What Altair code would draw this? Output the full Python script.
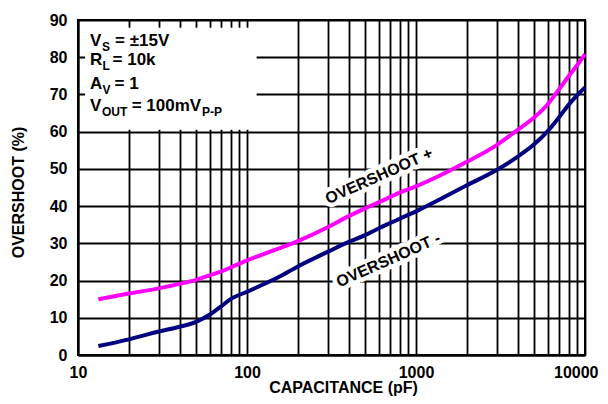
import altair as alt
import pandas as pd

# ---------------- data ----------------
cap_pf = [13.2, 20, 30, 40, 50, 60, 70, 80, 100, 152, 200, 300, 400, 500,
          600, 700, 800, 1000, 2000, 3000, 4000, 5000, 6000, 7000, 8000, 9000, 10000]
overshoot_pos = [15.0, 16.5, 17.9, 19.1, 20.2, 21.4, 22.4, 23.5, 25.4, 28.5, 30.6,
                 34.3, 37.3, 39.4, 41.0, 42.4, 43.6, 45.3, 51.9, 56.4, 60.5, 63.8,
                 67.3, 71.3, 74.9, 77.9, 80.8]
overshoot_neg = [2.4, 4.2, 6.3, 7.6, 8.9, 10.8, 13.0, 15.0, 17.0, 20.8, 23.8,
                 27.7, 30.4, 32.2, 34.0, 35.4, 36.6, 38.6, 45.6, 49.7, 53.3, 56.6,
                 60.1, 63.8, 67.2, 69.8, 71.9]
series_names = ["OVERSHOOT +", "OVERSHOOT -"]
series_colors = ["#ff00ff", "#000080"]

x_grid_values = [10, 20, 30, 40, 50, 60, 70, 80, 90,
                 100, 200, 300, 400, 500, 600, 700, 800, 900,
                 1000, 2000, 3000, 4000, 5000, 6000, 7000, 8000, 9000, 10000]
x_label_values = [10, 100, 1000, 10000]
y_values = [0, 10, 20, 30, 40, 50, 60, 70, 80, 90]

# curve labels (data position of the label centre)
curve_label_text = ["OVERSHOOT +", "OVERSHOOT -"]
curve_label_cap = [605, 686]
curve_label_ovs = [48.1, 25.5]

# condition box (white panel, data coords)
box_cap = [11.0, 114.0]
box_ovs = [60.5, 87.9]

# condition text fragments
legend_parts = ["V", "S", "= ±15V",
                "R", "L", "= 10k",
                "A", "V", "= 1",
                "V", "OUT", "= 100mV", "P-P"]
legend_row = [0, 0, 0, 1, 1, 1, 2, 2, 2, 3, 3, 3, 3]
legend_is_sub = [False, True, False, False, True, False, False, True, False,
                 False, True, False, True]
legend_row_ovs = [82.9, 77.9, 71.5, 65.5]
legend_cap = 11.78

# layout offsets for fragments (pixels)
legend_dx = [0, 12, 25, 0, 12.5, 22.5, 0, 12.5, 24.5, 0, 12, 41.7, 112]

FONT = "Liberation Sans"
W, H = 507, 335

# ---------------- chart ----------------
n = len(cap_pf)
df = pd.DataFrame({
    "cap": cap_pf + cap_pf,
    "ovs": overshoot_pos + overshoot_neg,
    "series": [series_names[0]] * n + [series_names[1]] * n,
})

xscale = alt.Scale(type="log", domain=[10, 10000], nice=False)
yscale = alt.Scale(domain=[0, 90], nice=False, zero=False)

label_test = " || ".join(f"datum.value == {v}" for v in x_label_values)
label_expr = f"({label_test}) ? format(datum.value, 'd') : ''"
last_label = f"datum.value == {x_label_values[-1]}"

xaxis = alt.Axis(
    values=x_grid_values, grid=True, gridColor="black", gridWidth=1.8, gridOpacity=1,
    ticks=False, tickSize=0, domain=True, domainColor="black", domainWidth=2,
    labelExpr=label_expr, labelFont=FONT, labelFontSize=16, labelFontWeight="bold",
    labelColor="black", labelPadding=9, labelFlush=False, labelOverlap=False,
    labelAlign={"condition": {"test": last_label, "value": "right"}, "value": "center"},
    labelOffset={"condition": {"test": last_label, "value": 13}, "value": 0},
    title="CAPACITANCE (pF)", titleFont=FONT, titleFontSize=16, titleFontWeight="bold",
    titleColor="black", titleX=265, titleY=37, titleAlign="center",
    titleBaseline="alphabetic",
)
yaxis = alt.Axis(
    values=y_values, grid=True, gridColor="black", gridWidth=1.8, gridOpacity=1,
    ticks=False, tickSize=0, domain=True, domainColor="black", domainWidth=2,
    labelFont=FONT, labelFontSize=16, labelFontWeight="bold", labelColor="black",
    labelPadding=11, labelOverlap=False,
    title="OVERSHOOT (%)", titleFont=FONT, titleFontSize=16, titleFontWeight="bold",
    titleColor="black", titleAngle=270, titleX=-60, titleY=172, titleAlign="center",
    titleBaseline="middle",
)

X = alt.X("cap:Q", scale=xscale, axis=xaxis)
Y = alt.Y("ovs:Q", scale=yscale, axis=yaxis)

lines = alt.Chart(df).mark_line(strokeWidth=4, interpolate="monotone").encode(
    x=X, y=Y,
    color=alt.Color("series:N", scale=alt.Scale(domain=series_names, range=series_colors),
                    legend=None),
)

box_df = pd.DataFrame({"cap": [box_cap[0]], "cap2": [box_cap[1]],
                       "ovs": [box_ovs[0]], "ovs2": [box_ovs[1]]})
box = alt.Chart(box_df).mark_rect(color="white", opacity=1).encode(
    x=X, x2="cap2:Q", y=Y, y2="ovs2:Q",
)

lab_df = pd.DataFrame({"cap": curve_label_cap, "ovs": curve_label_ovs, "t": curve_label_text})
halo = alt.Chart(lab_df).mark_text(
    font=FONT, fontSize=16, fontWeight="bold", angle=336, align="center",
    baseline="middle", fill="white", stroke="white", strokeWidth=9, strokeJoin="round",
).encode(x=X, y=Y, text="t:N")
labels = alt.Chart(lab_df).mark_text(
    font=FONT, fontSize=16, fontWeight="bold", angle=336, align="center",
    baseline="middle", color="black",
).encode(x=X, y=Y, text="t:N")

legend_layers = []
for txt, row, sub, dx in zip(legend_parts, legend_row, legend_is_sub, legend_dx):
    frag_df = pd.DataFrame({"cap": [legend_cap], "ovs": [legend_row_ovs[row]], "t": [txt]})
    legend_layers.append(
        alt.Chart(frag_df).mark_text(
            font=FONT, fontSize=12 if sub else 17, fontWeight="bold", align="left",
            baseline="alphabetic", color="black", dx=dx, dy=5 if sub else 0,
        ).encode(x=X, y=Y, text="t:N")
    )

chart = alt.layer(box, halo, lines, labels, *legend_layers).properties(
    width=W, height=H,
    padding={"left": 70, "top": 12, "right": 15, "bottom": 41},
    autosize=alt.AutoSizeParams(type="none"),
).configure(background="white").configure_view(stroke="black", strokeWidth=2)

chart.save("out.html", embed_options={"renderer": "svg", "actions": False})
